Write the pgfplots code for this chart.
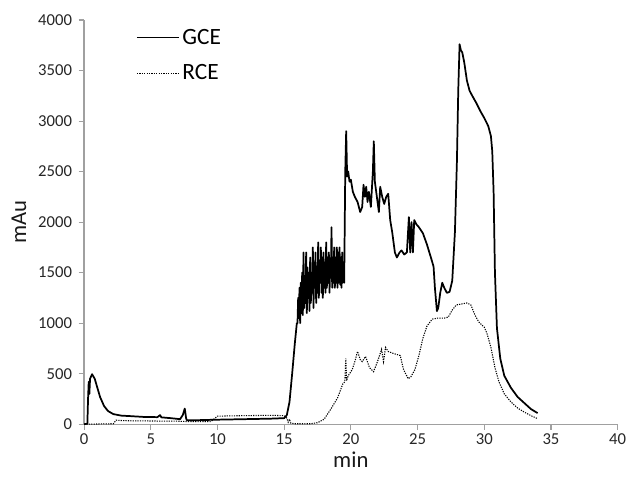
\documentclass[border=0pt]{standalone}
\usepackage{fontspec}
\setmainfont{Carlito}
\usepackage{pgfplots}
\pgfplotsset{compat=1.18}
\definecolor{axisgray}{RGB}{160,160,160}

\begin{document}
\begin{tikzpicture}
\begin{axis}[
  scale only axis,
  width=400pt,
  height=303pt,
  xmin=0, xmax=40,
  ymin=0, ymax=4000,
  xtick={0,5,...,40},
  ytick={0,500,...,4000},
  axis lines=left,
  axis line style={-,axisgray,line width=0.9pt},
  tick style={axisgray,line width=0.8pt},
  tick align=outside,
  major tick length=4pt,
  /pgf/number format/assume math mode=true,
  /pgf/number format/1000 sep={},
  tick label style={font=\fontsize{12.5}{14}\selectfont, color=black!85},
  yticklabel style={xshift=-1.5pt},
  xticklabel style={yshift=0.5pt},
  xlabel={min},
  ylabel={mAu},
  label style={font=\fontsize{17}{19}\selectfont, color=black!90},
  xlabel style={at={(axis description cs:0.5,-0.087)},anchor=center},
  ylabel style={at={(axis description cs:-0.1219,0.5)},anchor=center},
  legend style={at={(axis description cs:0.097,0.985)},anchor=north west,draw=none,fill=none,
    inner sep=0pt,
    font=\fontsize{17.5}{19}\selectfont,row sep=10pt,
    /tikz/every even column/.append style={column sep=8pt}},
  legend cell align=left,
  legend image code/.code={\draw[#1] (0pt,0pt) -- (31.5pt,0pt);},
]
% GCE
\addplot[black,line width=1.3pt,line join=round] coordinates {
(0,0)(0.25,5)(0.3,250)(0.35,420)(0.4,300)(0.45,450)(0.6,495)(0.8,450)(1.0,360)(1.2,270)
(1.5,180)(1.8,130)(2.2,100)(2.8,85)(3.5,80)(4.5,72)(5.5,70)(5.7,90)(5.8,68)(6.5,60)
(7.2,50)(7.4,90)(7.55,155)(7.65,60)(7.7,40)(8.5,40)(10,45)(12,50)(14,55)(15.0,60)
(15.2,90)(15.4,220)(15.6,500)(15.8,800)(15.95,1000)
(16.00,1000)(16.05,1250)(16.10,1050)(16.15,1350)(16.20,1000)(16.25,1400)(16.30,1100)(16.35,1500)
(16.40,1080)(16.45,1700)(16.50,1150)(16.55,1450)(16.60,1200)(16.65,1700)(16.70,1100)(16.75,1550)
(16.80,1250)(16.85,1500)(16.90,1120)(16.95,1650)(17.00,1200)(17.05,1500)(17.10,1300)(17.15,1750)
(17.20,1150)(17.25,1600)(17.30,1350)(17.35,1700)(17.40,1200)(17.45,1550)(17.50,1300)(17.55,1800)
(17.60,1250)(17.65,1600)(17.70,1400)(17.75,1750)(17.80,1300)(17.85,1650)(17.90,1250)(17.95,1700)
(18.00,1350)(18.05,1600)(18.10,1300)(18.15,1800)(18.20,1350)(18.25,1650)(18.30,1400)(18.35,1700)
(18.40,1300)(18.45,1600)(18.50,1450)(18.55,1950)(18.60,1350)(18.65,1650)(18.70,1400)(18.75,1750)
(18.80,1350)(18.85,1650)(18.90,1400)(18.95,1750)(19.00,1350)(19.05,1700)(19.10,1400)(19.15,1750)
(19.20,1380)(19.25,1650)(19.30,1350)(19.35,1700)(19.40,1400)(19.45,1600)(19.50,1400)
(19.58,2500)(19.65,2900)(19.72,2450)(19.80,2500)(19.90,2400)(20.00,2420)(20.15,2300)(20.30,2250)
(20.50,2200)(20.70,2100)(20.85,2150)(20.95,2370)(21.05,2250)(21.15,2350)(21.25,2200)(21.35,2300)
(21.50,2150)(21.65,2500)(21.72,2800)(21.80,2400)(21.95,2250)(22.10,2100)(22.20,2350)(22.35,2250)
(22.50,2180)(22.65,2250)(22.80,2280)(22.95,2020)(23.10,1900)(23.30,1700)(23.45,1650)(23.65,1700)
(23.80,1720)(24.00,1680)(24.20,1700)(24.35,2050)(24.45,1700)(24.55,2000)(24.65,1700)(24.75,2020)
(24.90,1980)(25.10,1950)(25.40,1890)(25.70,1780)(26.00,1650)(26.20,1560)(26.30,1350)(26.45,1120)
(26.55,1150)(26.70,1300)(26.85,1400)(27.00,1350)(27.20,1300)(27.40,1310)(27.60,1420)(27.80,1900)
(27.95,2600)(28.05,3300)(28.15,3760)(28.25,3700)(28.35,3680)(28.50,3580)(28.70,3400)(28.90,3300)
(29.10,3250)(29.40,3180)(29.70,3100)(30.00,3030)(30.30,2950)(30.50,2850)(30.60,2700)(30.70,2300)
(30.80,1500)(30.95,950)(31.20,650)(31.50,480)(32.00,360)(32.50,270)(33.00,210)(33.50,150)(34.00,110)
};
% RCE
\addplot[black,line width=0.8pt,dash pattern=on 0.9pt off 0.9pt] coordinates {
(0,0)(2.2,5)(2.4,40)(3,35)(5,32)(7,30)(7.5,28)(8,25)(9.5,25)(10,80)(12,85)(14,88)(15.0,85)
(15.2,60)(15.3,20)(15.4,50)(15.5,10)(15.8,5)(17.0,5)(17.5,15)(18.0,50)(18.5,150)(19.0,260)
(19.4,400)(19.55,420)(19.62,650)(19.68,430)(19.8,480)(20.1,540)(20.3,620)(20.5,720)(20.7,640)
(20.85,620)(21.1,670)(21.4,560)(21.7,520)(22.0,620)(22.3,740)(22.45,620)(22.6,760)(22.8,720)
(23.2,700)(23.7,680)(23.95,540)(24.3,450)(24.5,470)(24.8,540)(25.1,680)(25.4,850)(25.7,970)
(26.1,1040)(26.5,1050)(27.0,1050)(27.3,1060)(27.6,1130)(27.9,1180)(28.3,1190)(28.7,1200)
(29.0,1180)(29.3,1080)(29.6,1010)(30.0,960)(30.2,900)(30.5,760)(30.8,560)(31.1,420)(31.5,300)
(32.0,220)(32.5,160)(33.0,120)(33.5,85)(34.0,55)
};
\legend{GCE,RCE}
\end{axis}
\pgfresetboundingbox
\path[use as bounding box] (-63pt,-39.75pt) rectangle (407pt,318pt);
\end{tikzpicture}
\end{document}
